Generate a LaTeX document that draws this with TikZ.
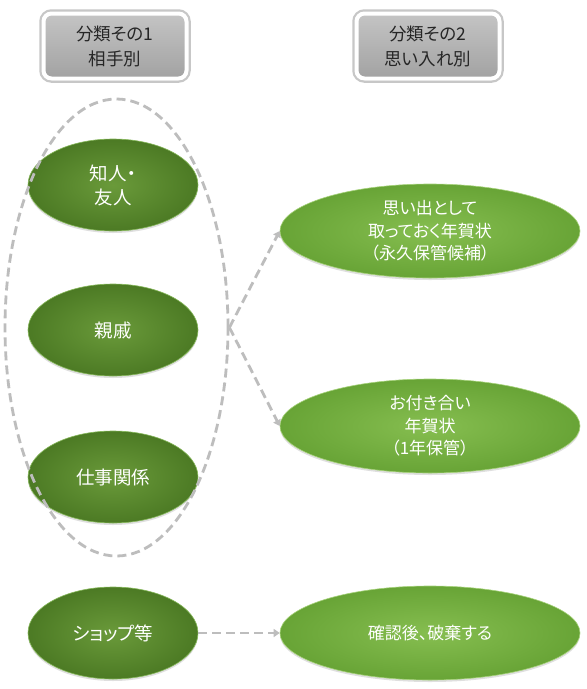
\documentclass[tikz,border=0pt]{standalone}
\usepackage{fontspec}
\setmainfont{Noto Sans CJK JP}[RawFeature=+palt]
\usetikzlibrary{shapes.geometric,arrows.meta,shadows}
\definecolor{dkIn}{HTML}{6A9A3A}
\definecolor{dkOut}{HTML}{4C7A24}
\definecolor{dkEdge}{HTML}{86B85A}
\definecolor{ltIn}{HTML}{86BE50}
\definecolor{ltOut}{HTML}{68A436}
\definecolor{ltEdge}{HTML}{A6D27A}
\definecolor{dashgray}{HTML}{BDBDBD}
\definecolor{hdrTop}{HTML}{C4C4C4}
\definecolor{hdrBot}{HTML}{A2A2A2}
\begin{document}
\begin{tikzpicture}[x=1pt,y=-1pt,
  hdr/.style={rectangle, rounded corners=8pt, minimum width=143pt, minimum height=65pt,
    preaction={draw=black!22, line width=8.5pt},
    draw=white, line width=4pt, top color=hdrTop, bottom color=hdrBot,
    drop shadow={opacity=0.3, shadow xshift=0pt, shadow yshift=-2pt},
    align=center, text=black!85, font=\fontsize{17.5}{25}\selectfont},
  dkell/.style={ellipse, minimum width=170pt, minimum height=92pt, inner sep=0pt,
    inner color=dkIn, outer color=dkOut, draw=dkEdge, line width=0.6pt,
    drop shadow={opacity=0.25, shadow xshift=0pt, shadow yshift=-2pt}},
  ltell/.style={ellipse, minimum width=300pt, minimum height=94pt, inner sep=0pt,
    inner color=ltIn, outer color=ltOut, draw=ltEdge, line width=0.6pt,
    drop shadow={opacity=0.25, shadow xshift=0pt, shadow yshift=-2pt}},
  dtext/.style={align=center, text=white, inner sep=0pt, font=\fontsize{18.5}{24}\selectfont},
  etext/.style={align=center, text=white, inner sep=0pt, font=\fontsize{17}{22.5}\selectfont},
  grpell/.style={ellipse, minimum width=223pt, minimum height=457pt, inner sep=0pt,
    draw=dashgray, line width=2.8pt, dash pattern=on 9pt off 5pt},
  conn/.style={draw=dashgray, line width=2.8pt, dash pattern=on 9pt off 5pt,
    -{Triangle[width=8pt,length=6pt]}}
]
\useasboundingbox (0,0) rectangle (587,689);
\fill[white] (0,0) rectangle (587,689);

% headers
\node[hdr] (h1) at (115,46) {分類その1\\相手別};
\node[hdr] (h2) at (428,46) {分類その2\\思い入れ別};

% left ellipses
\node[dkell] (a1) at (113,185) {};
\node[dtext] (a1t) at (a1) {知人・\\友人};
\node[dkell] (a2) at (113,330) {};
\node[dtext] (a2t) at (a2) {親戚};
\node[dkell] (a3) at (113,477) {};
\node[dtext] (a3t) at (a3) {仕事関係};
\node[dkell] (a4) at (113,633) {};
\node[dtext] (a4t) at (a4) {ショップ等};

% right ellipses
\node[ltell] (b1) at (430,231) {};
\node[etext] (b1t) at (b1) {思い出として\\取っておく年賀状\\（永久保管候補）};
\node[ltell] (b2) at (430,426) {};
\node[etext] (b2t) at (b2) {お付き合い\\年賀状\\（1年保管）};
\node[ltell] (b3) at (430,633) {};
\node[etext] (b3t) at (b3) {確認後、破棄する};

% group ellipse
\node[grpell] (g) at (116.5,327.5) {};

% connectors
\draw[conn] (g.east) -- (b1.west);
\draw[conn] (g.east) -- (b2.west);
\draw[conn] (a4.east) -- (b3.west);
\end{tikzpicture}
\end{document}
